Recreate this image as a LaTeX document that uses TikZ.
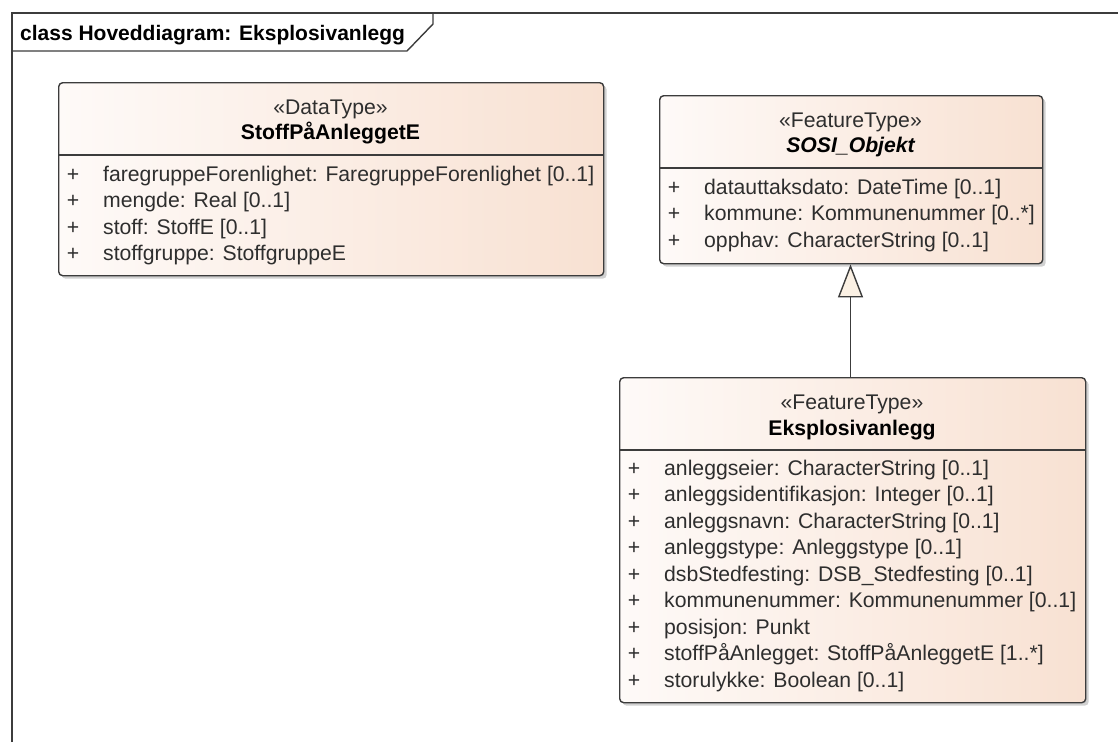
\documentclass[tikz,border=0pt]{standalone}
\usepackage{fontspec}
\setmainfont{Liberation Sans}
\usetikzlibrary{arrows.meta,shadows}
\definecolor{boxL}{HTML}{FEFAF8}
\definecolor{boxR}{HTML}{F8E1D2}
\definecolor{edge}{HTML}{3C3C3C}
\definecolor{txt}{HTML}{2E2E2E}
\definecolor{tri}{HTML}{FBF1E4}
\tikzset{
  umlbox/.style={draw=edge, line width=1.4pt, rounded corners=4pt,
    left color=boxL, right color=boxR, inner sep=0pt, anchor=north west,
    drop shadow={shadow xshift=3pt, shadow yshift=-3pt, fill=black, opacity=0.18}},
  divider/.style={draw=edge, line width=1.4pt},
  frameline/.style={draw=edge, line width=1.4pt},
  attr/.style={anchor=base west, inner sep=0pt, font=\fontsize{21.2}{24}\selectfont, text=txt},
  plus/.style={anchor=base, inner sep=0pt, font=\fontsize{21.2}{24}\selectfont, text=txt},
  stereo/.style={anchor=base, inner sep=0pt, font=\fontsize{21.2}{24}\selectfont, text=txt},
  cname/.style={anchor=base, inner sep=0pt, font=\fontsize{21.2}{24}\selectfont\bfseries, text=black},
  title/.style={anchor=base west, inner sep=0pt, font=\fontsize{21}{24}\selectfont\bfseries, text=black},
  gen/.style={draw=edge, line width=1.4pt,
    -{Triangle[open, length=33pt, width=25pt, fill=tri, line width=1.4pt]}}
}
\begin{document}
\begin{tikzpicture}[x=1pt,y=-1pt]
\useasboundingbox[fill=white] (0,0) rectangle (1118,742);

% diagram frame
\draw[frameline] (12,742) -- (12,13) -- (1118,13);
\draw[frameline] (12,51) -- (407,51) -- (433,24) -- (433,13);
\node[title] (ttl) at (20,40) {class Hoveddiagram: Eksplosivanlegg};

% StoffPaAnleggetE
\node[umlbox, minimum width=545pt, minimum height=193pt] (dt) at (58,82) {};
\draw[divider] ([yshift=-73pt]dt.north west) -- ([yshift=-73pt]dt.north east);
\node[stereo] (dtst) at (330.5,114) {«DataType»};
\node[cname] (dtnm) at (330.5,139.5) {StoffPåAnleggetE};
\foreach \t [count=\i from 0] in {faregruppeForenlighet: FaregruppeForenlighet [0..1],
  mengde: Real [0..1], stoff: StoffE [0..1], stoffgruppe: StoffgruppeE} {
  \node[plus] (dtp\i) at (73,181.5+\i*26.4) {+};
  \node[attr] (dta\i) at (103,181.5+\i*26.4) {\t};
}

% SOSI_Objekt
\node[umlbox, minimum width=383pt, minimum height=168pt] (so) at (659,95) {};
\draw[divider] ([yshift=-73pt]so.north west) -- ([yshift=-73pt]so.north east);
\node[stereo] (sost) at (850.5,127) {«FeatureType»};
\node[cname] (sonm) at (850.5,152.5) {\itshape SOSI\_Objekt};
\foreach \t [count=\i from 0] in {datauttaksdato: DateTime [0..1],
  kommune: Kommunenummer [0..*], opphav: CharacterString [0..1]} {
  \node[plus] (sop\i) at (674,194.5+\i*26.4) {+};
  \node[attr] (soa\i) at (704,194.5+\i*26.4) {\t};
}

% Eksplosivanlegg
\node[umlbox, minimum width=466pt, minimum height=325pt] (ek) at (619,377) {};
\draw[divider] ([yshift=-73pt]ek.north west) -- ([yshift=-73pt]ek.north east);
\node[stereo] (ekst) at (852,409) {«FeatureType»};
\node[cname] (eknm) at (852,435.5) {Eksplosivanlegg};
\foreach \t [count=\i from 0] in {anleggseier: CharacterString [0..1],
  anleggsidentifikasjon: Integer [0..1], anleggsnavn: CharacterString [0..1],
  anleggstype: Anleggstype [0..1], dsbStedfesting: DSB\_Stedfesting [0..1],
  kommunenummer: Kommunenummer [0..1], posisjon: Punkt,
  stoffPåAnlegget: StoffPåAnleggetE [1..*], storulykke: Boolean [0..1]} {
  \node[plus] (ekp\i) at (634,475+\i*26.5) {+};
  \node[attr] (eka\i) at (664,475+\i*26.5) {\t};
}

% generalization
\coordinate (gx) at (850.5,0);
\draw[gen] (ek.north -| gx) -- (so.south -| gx);
\end{tikzpicture}
\end{document}
